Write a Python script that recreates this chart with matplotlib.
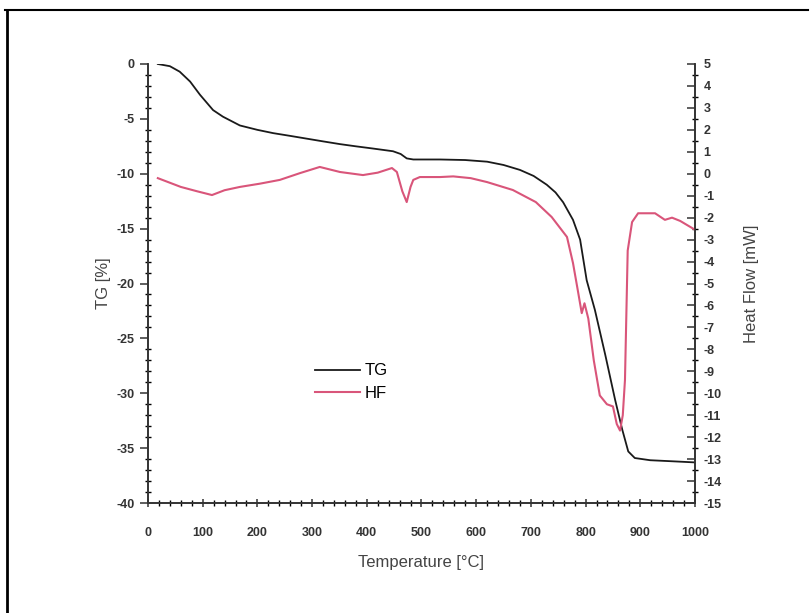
import matplotlib
matplotlib.use("Agg")
import matplotlib.pyplot as plt
from matplotlib.lines import Line2D
from matplotlib.ticker import MultipleLocator

plt.rcParams['font.family'] = ['Liberation Sans', 'DejaVu Sans']
plt.rcParams['axes.unicode_minus'] = False

# TG curve (Temperature [°C], TG [%])
tg_temp = [18, 40, 58, 77, 95, 119, 137, 168, 200, 229, 260, 290, 320, 351, 380, 411, 448, 462, 473, 485,
           534, 580, 620, 650, 680, 705, 729, 745, 759, 777, 790, 802, 817, 836, 854, 867, 878, 890, 918, 960, 1000]
tg_vals = [0.0, -0.2, -0.7, -1.6, -2.8, -4.2, -4.8, -5.6, -6.0, -6.3, -6.55, -6.8, -7.05, -7.3, -7.5, -7.7, -7.95, -8.2, -8.6, -8.7,
           -8.7, -8.75, -8.9, -9.2, -9.65, -10.2, -11.0, -11.7, -12.6, -14.2, -16.0, -19.7, -22.4, -26.5, -30.6, -33.3, -35.3, -35.9, -36.1, -36.2, -36.3]

# Heat flow curve (Temperature [°C], HF [mW])
hf_temp = [18, 60, 90, 117, 140, 168, 205, 241, 278, 314, 351, 393, 420, 446, 455, 465, 473, 480, 485, 497,
           534, 558, 590, 620, 667, 709, 738, 766, 777, 785, 793, 798, 805, 815, 826, 839, 850, 857, 863,
           868, 872, 877, 885, 896, 927, 945, 958, 973, 1000]
hf_vals = [-0.2, -0.6, -0.8, -0.97, -0.75, -0.6, -0.45, -0.28, 0.03, 0.31, 0.08, -0.06, 0.05, 0.26, 0.08, -0.8, -1.29, -0.6, -0.28, -0.15,
           -0.15, -0.12, -0.2, -0.38, -0.74, -1.29, -1.97, -2.88, -4.07, -5.2, -6.35, -5.9, -6.6, -8.5, -10.1, -10.5, -10.6, -11.4, -11.7,
           -11.0, -9.4, -3.5, -2.2, -1.8, -1.8, -2.1, -2.0, -2.15, -2.55]

x_ticks = list(range(0, 1001, 100))
tg_ticks = list(range(0, -41, -5))
hf_ticks = list(range(5, -16, -1))

fig = plt.figure(figsize=(8.1, 6.13), dpi=100)
ax = fig.add_axes([0.1827, 0.1794, 0.6753, 0.7162])
ax2 = ax.twinx()

tg_line, = ax.plot(tg_temp, tg_vals, color='#1a1a1a', lw=1.3)
hf_line, = ax2.plot(hf_temp, hf_vals, color='#d9557a', lw=1.5)

ax.set_xlim(0, 1000)
ax.set_ylim(-40, 0)
ax2.set_ylim(-15, 5)

ax.set_xticks(x_ticks)
ax.set_yticks(tg_ticks)
ax2.set_yticks(hf_ticks)
ax.xaxis.set_minor_locator(MultipleLocator(20))
ax.yaxis.set_minor_locator(MultipleLocator(1))
ax2.yaxis.set_minor_locator(MultipleLocator(0.5))

for a in (ax, ax2):
    a.spines['top'].set_visible(False)
    for s in a.spines.values():
        s.set_linewidth(1.2)
        s.set_color('#333333')

ax.tick_params(axis='x', which='major', direction='inout', length=6, width=1.1, labelsize=9, pad=14, colors='#333333')
ax.tick_params(axis='x', which='minor', direction='inout', length=4, width=1.0)
ax.tick_params(axis='y', which='major', direction='out', length=6, width=1.1, labelsize=9, colors='#333333')
ax.tick_params(axis='y', which='minor', direction='inout', length=4, width=1.0)
ax2.tick_params(axis='y', which='major', direction='in', length=6, width=1.1, labelsize=9, pad=6, colors='#333333')
ax2.tick_params(axis='y', which='minor', direction='inout', length=4, width=1.0)
for lab in ax.get_xticklabels() + ax.get_yticklabels() + ax2.get_yticklabels():
    lab.set_fontweight('bold')

ax.set_xlabel('Temperature [°C]', fontsize=12, color='#444444', labelpad=12)
ax.set_ylabel('TG [%]', fontsize=12, color='#444444', labelpad=4)
ax2.set_ylabel('Heat Flow [mW]', fontsize=12, color='#444444', labelpad=16)

ax.legend([tg_line, hf_line], ['TG', 'HF'], loc='upper left', bbox_to_anchor=(0.277, 0.352),
          frameon=False, fontsize=12, handlelength=2.7, handletextpad=0.3, labelspacing=0.45)

# outer frame (left and top)
fig.add_artist(Line2D([0.0086, 0.0086], [0.0, 0.984], transform=fig.transFigure, color='black', lw=2))
fig.add_artist(Line2D([0.006, 0.998], [0.984, 0.984], transform=fig.transFigure, color='black', lw=1.5))

fig.savefig('out.png', dpi=100)
